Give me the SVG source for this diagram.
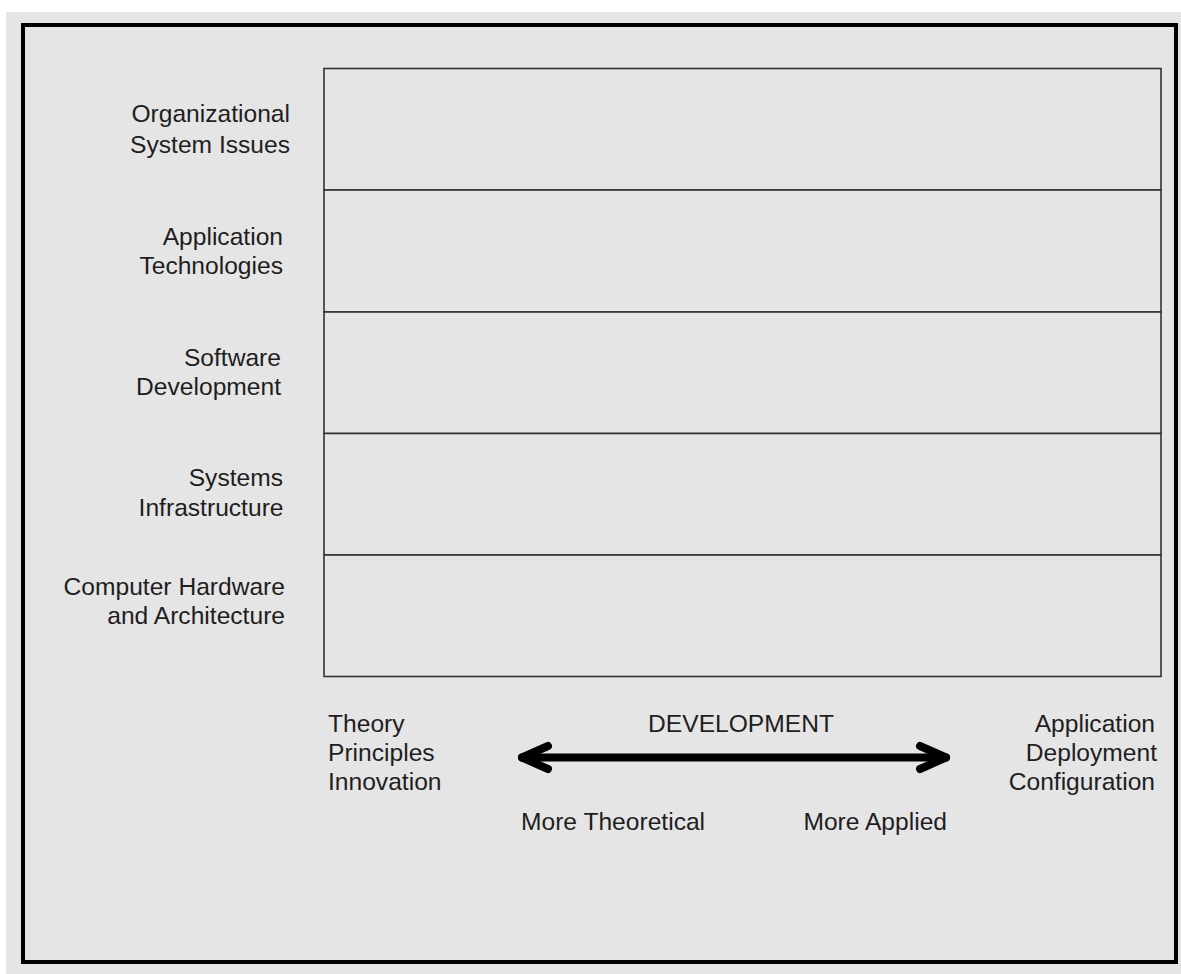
<svg xmlns="http://www.w3.org/2000/svg" width="1181" height="974" viewBox="0 0 1181 974">
  <style>
    .lbl { font-family: "Liberation Sans", Arial, sans-serif; font-size: 24.6px; fill: #1e1e1e; }
    .end { text-anchor: end; }
    .mid { text-anchor: middle; }
    .row { fill: #e5e5e5; stroke: #333333; stroke-width: 1.6; }
    .arrow { fill: none; stroke: #000000; stroke-width: 8; stroke-linecap: round; stroke-linejoin: round; }
  </style>
  <rect x="0" y="0" width="1181" height="974" fill="#ffffff"/>
  <rect x="6" y="12" width="1175" height="962" fill="#e5e5e5"/>
  <rect id="frame" x="23" y="25" width="1153" height="937" fill="none" stroke="#000000" stroke-width="4"/>

  <g id="row-organizational">
    <rect class="row" x="324" y="68.5" width="837" height="121.5"/>
    <text class="lbl end" x="290" y="121.5">Organizational</text>
    <text class="lbl end" x="290" y="153">System Issues</text>
  </g>
  <g id="row-application">
    <rect class="row" x="324" y="190" width="837" height="122"/>
    <text class="lbl end" x="283" y="244.5">Application</text>
    <text class="lbl end" x="283" y="273.5">Technologies</text>
  </g>
  <g id="row-software">
    <rect class="row" x="324" y="312" width="837" height="121.5"/>
    <text class="lbl end" x="281" y="366">Software</text>
    <text class="lbl end" x="281" y="394.5">Development</text>
  </g>
  <g id="row-systems">
    <rect class="row" x="324" y="433.5" width="837" height="121.5"/>
    <text class="lbl end" x="283" y="486">Systems</text>
    <text class="lbl end" x="283.5" y="516">Infrastructure</text>
  </g>
  <g id="row-hardware">
    <rect class="row" x="324" y="555" width="837" height="121.5"/>
    <text class="lbl end" x="285" y="595">Computer Hardware</text>
    <text class="lbl end" x="285" y="624">and Architecture</text>
  </g>

  <g id="theory">
    <text class="lbl" x="328" y="731.5">Theory</text>
    <text class="lbl" x="328" y="760.5">Principles</text>
    <text class="lbl" x="328" y="790">Innovation</text>
  </g>
  <g id="application-side">
    <text class="lbl end" x="1155" y="731.5">Application</text>
    <text class="lbl end" x="1157" y="760.5">Deployment</text>
    <text class="lbl end" x="1155" y="789.5">Configuration</text>
  </g>
  <g id="development-label">
    <text class="lbl mid" x="741" y="731.5">DEVELOPMENT</text>
    <text class="lbl" x="521" y="830">More Theoretical</text>
    <text class="lbl end" x="947" y="830">More Applied</text>
  </g>

  <g id="connectors">
    <line class="arrow" x1="522" y1="757.5" x2="946" y2="757.5"/>
    <polyline class="arrow" points="548,746 522,757.5 548,769"/>
    <polyline class="arrow" points="920,746 946,757.5 920,769"/>
  </g>
</svg>
